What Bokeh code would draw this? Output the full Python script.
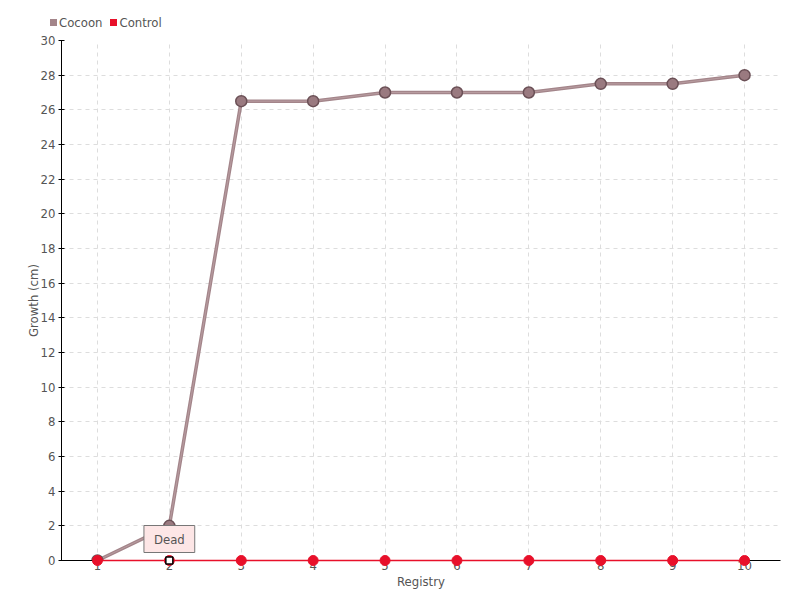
from bokeh.plotting import figure
from bokeh.layouts import column
from bokeh.models import Label, Range1d, FixedTicker, Div
from bokeh.embed import file_html
from bokeh.resources import INLINE

registry = [1, 2, 3, 4, 5, 6, 7, 8, 9, 10]
cocoon = [0, 2, 26.5, 26.5, 27, 27, 27, 27.5, 27.5, 28]
control = [0, 0, 0, 0, 0, 0, 0, 0, 0, 0]
y_ticks = list(range(0, 31, 2))
series_names = ["Cocoon", "Control"]
dead_index = 1
dead_label = "Dead"

FONT = "'DejaVu Sans Condensed', 'Roboto Condensed', Roboto, sans-serif"
TXT = "#555555"
C_COL = "#a3858a"
K_COL = "#e8102a"

# legend as an HTML strip above the plot
sw = "display:inline-block;width:7px;height:7px;margin-right:2px;vertical-align:middle;background:{}"
items = []
for name, col in zip(series_names, [C_COL, K_COL]):
    items.append('<span style="{}"></span><span style="vertical-align:middle">{}</span>'.format(sw.format(col), name))
legend_html = '<div style="font-family:{};font-size:13px;color:{};line-height:16px;white-space:nowrap">{}</div>'.format(
    FONT.replace("'", ""), TXT, '<span style="display:inline-block;width:8px"></span>'.join(items))
lg = Div(text=legend_html, width=800, height=30, margin=0,
         styles={"padding-left": "50px", "padding-top": "14px", "box-sizing": "border-box"})

p = figure(width=800, height=570, output_backend="svg", toolbar_location=None,
           x_range=Range1d(0.5, 10.5), y_range=Range1d(0, 30),
           min_border_left=61, min_border_right=20, min_border_top=10, min_border_bottom=40)
p.outline_line_color = None
p.background_fill_color = "white"

for g in (p.xgrid, p.ygrid):
    g.grid_line_color = "#dddddd"
    g.grid_line_dash = "4 4"
    g.grid_line_width = 1

p.xaxis.ticker = FixedTicker(ticks=registry)
p.yaxis.ticker = FixedTicker(ticks=y_ticks)
for ax in (p.xaxis, p.yaxis):
    ax.axis_line_color = "black"
    ax.axis_line_width = 1
    ax.minor_tick_line_color = None
    ax.major_label_text_font = FONT
    ax.major_label_text_font_size = "13px"
    ax.major_label_text_color = TXT
    ax.axis_label_text_font = FONT
    ax.axis_label_text_font_size = "13px"
    ax.axis_label_text_color = TXT
    ax.axis_label_text_font_style = "normal"
p.xaxis.major_tick_out = 0
p.xaxis.major_tick_in = 0
p.xaxis.major_label_standoff = 0
p.xaxis.axis_label = "Registry"
p.xaxis.axis_label_standoff = 1
p.yaxis.major_tick_out = 3
p.yaxis.major_tick_in = 3
p.yaxis.major_tick_line_color = "black"
p.yaxis.major_label_standoff = 3
p.yaxis.axis_label = "Growth (cm)"
p.yaxis.axis_label_standoff = -3

p.line(registry, cocoon, line_color=C_COL, line_width=3.5)
p.line(registry, cocoon, line_color="#b89ca0", line_width=1)
p.scatter(registry, cocoon, size=11, fill_color="#9a7a80", line_color="#6b5056", line_width=1.5)

p.line(registry, control, line_color=K_COL, line_width=1.5, level="overlay")
p.scatter(registry, control, size=10, fill_color=K_COL, line_color=K_COL, level="overlay")
p.scatter([registry[dead_index]], [control[dead_index]], marker="square", size=7,
          fill_color="white", line_color="black", line_width=1.5, level="overlay")

lbl = Label(x=registry[dead_index], y=control[dead_index], text=dead_label,
            x_offset=0, y_offset=8, text_align="center", text_baseline="bottom",
            text_font=FONT, text_font_size="13px", text_color=TXT,
            background_fill_color="#fde6e6", border_line_color="#777777",
            padding=(10, 6))
p.add_layout(lbl)

layout = column(lg, p, spacing=0)
open("out.html", "w").write(file_html(layout, INLINE))
